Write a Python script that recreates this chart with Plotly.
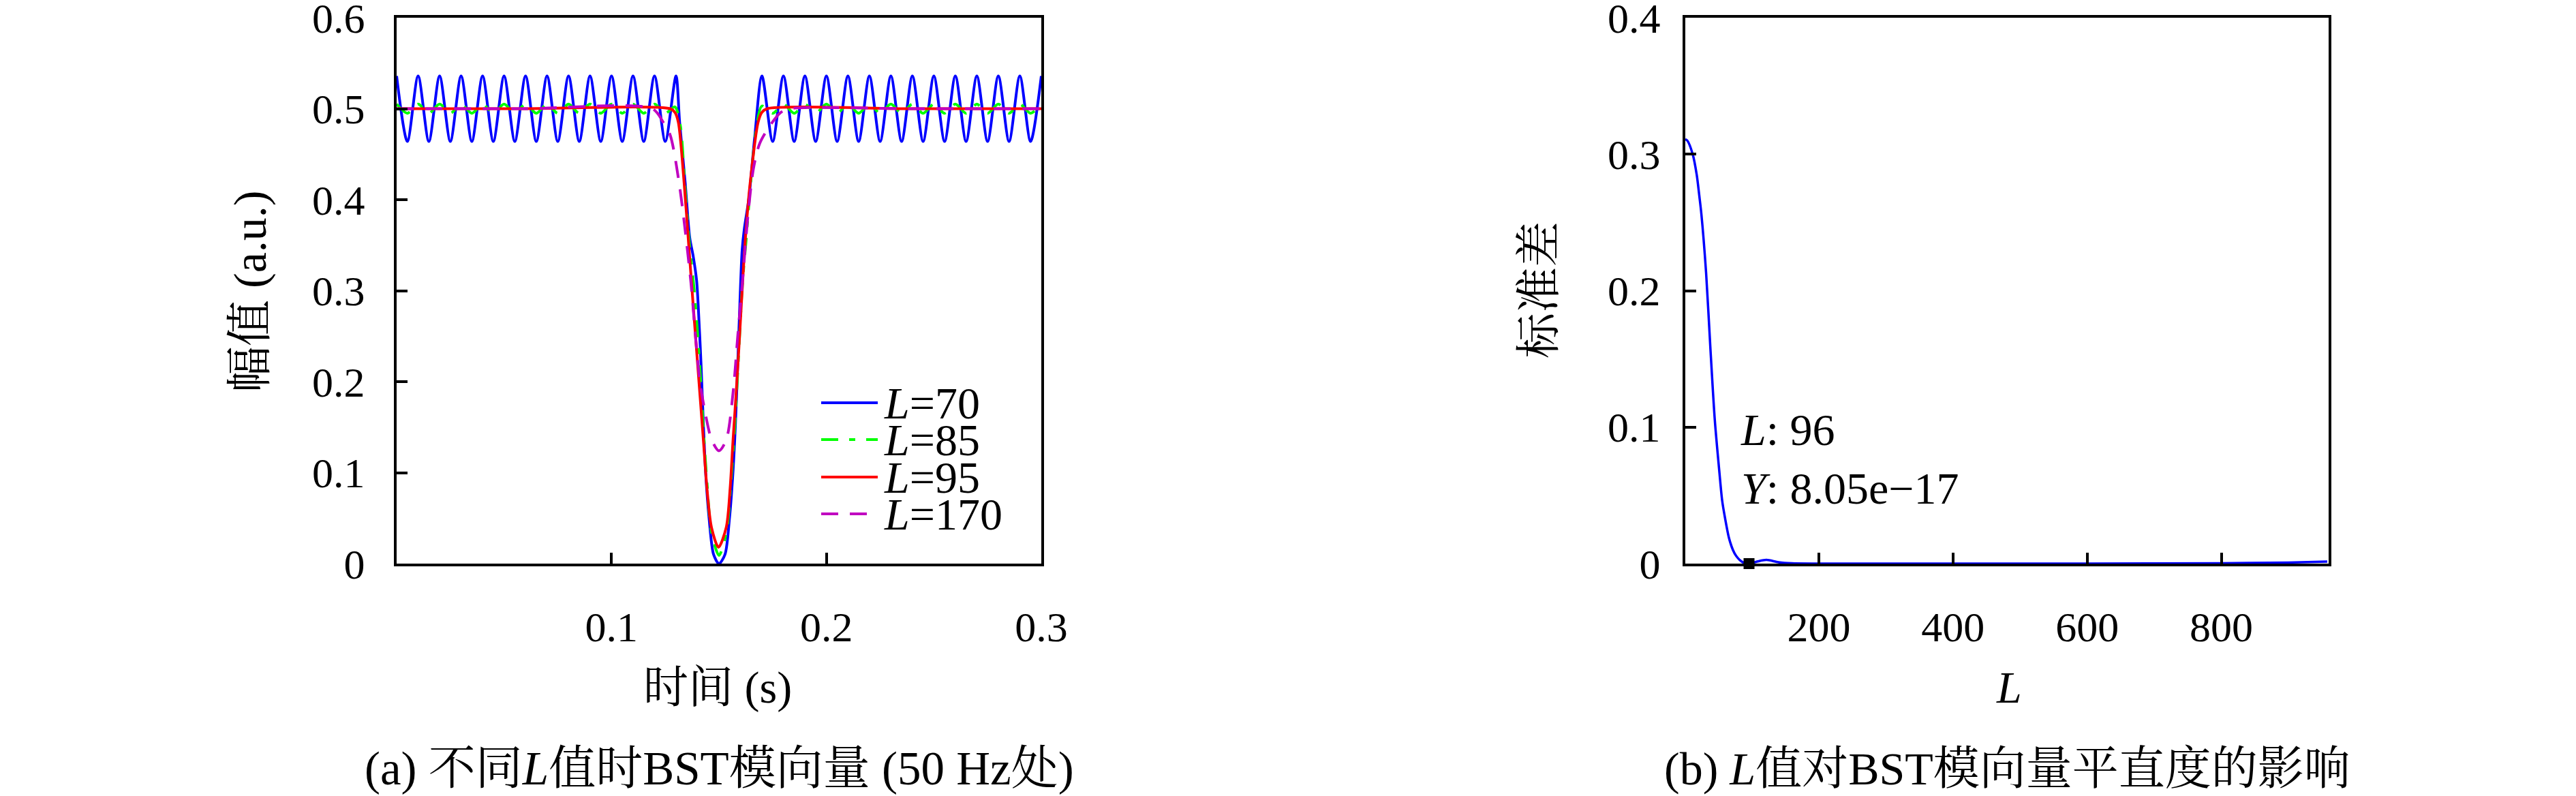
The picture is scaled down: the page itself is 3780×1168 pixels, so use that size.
import plotly.graph_objects as go

# ---------- (a) BST 模向量 (50 Hz) for different L ----------
T_L70 = [0.000, 0.005, 0.010, 0.015, 0.020, 0.025, 0.030, 0.035, 0.040, 0.045,
         0.050, 0.055, 0.060, 0.065, 0.070, 0.075, 0.080, 0.085, 0.090, 0.095,
         0.100, 0.105, 0.110, 0.115, 0.120, 0.125, 0.130,
         0.1317, 0.1343, 0.1364, 0.1380, 0.1396, 0.1407, 0.1417, 0.1428, 0.1438,
         0.1454, 0.1475, 0.1500, 0.1528, 0.1549, 0.1565, 0.1576, 0.1587, 0.1597,
         0.1608, 0.1618, 0.1639, 0.1666,
         0.170, 0.175, 0.180, 0.185, 0.190, 0.195, 0.200, 0.205, 0.210, 0.215,
         0.220, 0.225, 0.230, 0.235, 0.240, 0.245, 0.250, 0.255, 0.260, 0.265,
         0.270, 0.275, 0.280, 0.285, 0.290, 0.295, 0.300]
A_L70 = [0.536, 0.464, 0.536, 0.464, 0.536, 0.464, 0.536, 0.464, 0.536, 0.464,
         0.536, 0.464, 0.536, 0.464, 0.536, 0.464, 0.536, 0.464, 0.536, 0.464,
         0.536, 0.464, 0.536, 0.464, 0.536, 0.464, 0.536,
         0.485, 0.418, 0.358, 0.338, 0.311, 0.267, 0.217, 0.150, 0.100,
         0.050, 0.010, 0.000, 0.010, 0.050, 0.100, 0.150, 0.217, 0.284,
         0.345, 0.368, 0.401, 0.468,
         0.536, 0.464, 0.536, 0.464, 0.536, 0.464, 0.536, 0.464, 0.536, 0.464,
         0.536, 0.464, 0.536, 0.464, 0.536, 0.464, 0.536, 0.464, 0.536, 0.464,
         0.536, 0.464, 0.536, 0.464, 0.536, 0.464, 0.536]

T_L85 = [0.000, 0.005, 0.010, 0.015, 0.020, 0.025, 0.030, 0.035, 0.040, 0.045,
         0.050, 0.055, 0.060, 0.065, 0.070, 0.075, 0.080, 0.085, 0.090, 0.095,
         0.100, 0.105, 0.110, 0.115, 0.120, 0.125, 0.1295,
         0.1320, 0.1340, 0.1362, 0.1385, 0.1400, 0.1415, 0.1428, 0.1444, 0.1465,
         0.1500, 0.1535, 0.1556, 0.1572, 0.1585, 0.1597, 0.1610, 0.1628, 0.1648,
         0.1675, 0.1700,
         0.175, 0.180, 0.185, 0.190, 0.195, 0.200, 0.205, 0.210, 0.215,
         0.220, 0.225, 0.230, 0.235, 0.240, 0.245, 0.250, 0.255, 0.260, 0.265,
         0.270, 0.275, 0.280, 0.285, 0.290, 0.295, 0.300]
A_L85 = [0.505, 0.495, 0.505, 0.495, 0.505, 0.495, 0.505, 0.495, 0.505, 0.495,
         0.505, 0.495, 0.505, 0.495, 0.505, 0.495, 0.505, 0.495, 0.505, 0.495,
         0.505, 0.495, 0.505, 0.495, 0.505, 0.495, 0.502,
         0.482, 0.420, 0.353, 0.300, 0.255, 0.200, 0.145, 0.090, 0.035,
         0.009, 0.035, 0.090, 0.145, 0.200, 0.255, 0.310, 0.360, 0.420,
         0.480, 0.503,
         0.495, 0.505, 0.495, 0.505, 0.495, 0.505, 0.495, 0.505, 0.495,
         0.505, 0.495, 0.505, 0.495, 0.505, 0.495, 0.505, 0.495, 0.505, 0.495,
         0.505, 0.495, 0.505, 0.495, 0.505, 0.495, 0.505]

T_L95 = [0.000, 0.060, 0.1273, 0.1295, 0.1311, 0.1338, 0.1359, 0.1380, 0.1396,
         0.1412, 0.1428, 0.1444, 0.1465, 0.1498, 0.1534, 0.1552, 0.1565, 0.1579,
         0.1592, 0.1604, 0.1621, 0.1645, 0.1682, 0.1700, 0.1724, 0.240, 0.300]
A_L95 = [0.500, 0.500, 0.500, 0.496, 0.485, 0.418, 0.351, 0.284, 0.234,
         0.184, 0.134, 0.083, 0.040, 0.018, 0.040, 0.083, 0.134, 0.184,
         0.234, 0.284, 0.351, 0.418, 0.485, 0.496, 0.500, 0.500, 0.500]

T_L170 = [0.000, 0.060, 0.1190, 0.1241, 0.1273, 0.1316, 0.1369, 0.1391, 0.1412,
          0.1439, 0.1466, 0.1500, 0.1534, 0.1566, 0.1587, 0.1608, 0.1635, 0.1661,
          0.1690, 0.1745, 0.1788, 0.1830, 0.240, 0.300]
A_L170 = [0.500, 0.500, 0.500, 0.485, 0.471, 0.416, 0.310, 0.249, 0.199,
          0.162, 0.136, 0.124, 0.136, 0.189, 0.249, 0.306, 0.383, 0.435,
          0.462, 0.484, 0.496, 0.500, 0.500, 0.500]

SERIES_NAMES = ["L=70", "L=85", "L=95", "L=170"]
SERIES_COLORS = ["#0000ff", "#00ff00", "#ff0000", "#c000c0"]
SERIES_DASH = ["solid", "25px,16px,9px,16px", "solid", "25px,17px"]

# ---------- (b) 标准差 vs L ----------
L_VALS = [1, 4, 12, 18, 22, 25, 32, 38.5, 45, 52, 56, 60, 66, 72, 77, 86, 96,
          108, 122, 140, 160, 200, 400, 600, 800, 900, 958]
STD_VALS = [0.311, 0.310, 0.300, 0.285, 0.269, 0.256, 0.213, 0.157, 0.105, 0.066,
            0.046, 0.034, 0.019, 0.010, 0.0055, 0.0012, 0.0, 0.0015, 0.0027, 0.001,
            0.0002, 0.0, 0.0, 0.0, 0.0003, 0.0008, 0.0015]
MARK_L = [96]
MARK_STD = [8.05e-17]

FONT = "Liberation Serif, Noto Serif CJK SC, Noto Sans CJK SC, serif"
W, H = 3780, 1168

fig = go.Figure()
curves = [(T_L70, A_L70), (T_L85, A_L85), (T_L95, A_L95), (T_L170, A_L170)]
for (t, a), name, col, dash in zip(curves, SERIES_NAMES, SERIES_COLORS, SERIES_DASH):
    fig.add_trace(go.Scatter(x=t, y=a, mode="lines", name=name, showlegend=False,
                             line=dict(color=col, width=4, dash=dash, shape="spline", smoothing=0.8),
                             xaxis="x", yaxis="y"))

fig.add_trace(go.Scatter(x=L_VALS, y=STD_VALS, mode="lines", showlegend=False,
                         line=dict(color="#0000ff", width=3.5, shape="spline", smoothing=0.8),
                         xaxis="x2", yaxis="y2"))
fig.add_trace(go.Scatter(x=MARK_L, y=MARK_STD, mode="markers", showlegend=False, cliponaxis=False,
                         marker=dict(symbol="square", size=16, color="black"),
                         xaxis="x2", yaxis="y2"))

ax_common = dict(showline=True, mirror=True, linecolor="black", linewidth=4,
                 ticks="inside", ticklen=16, tickwidth=4, tickcolor="black",
                 showgrid=False, zeroline=False, ticklabeloverflow="allow", automargin=False,
                 tickfont=dict(family=FONT, size=62, color="black"))

def px_x(p): return p / W
def px_y(p): return 1 - p / H

fig.update_layout(
    width=W, height=H, paper_bgcolor="white", plot_bgcolor="white",
    margin=dict(l=0, r=0, t=0, b=0, autoexpand=False), showlegend=False,
    font=dict(family=FONT, color="black", size=62),
    xaxis=dict(**ax_common, domain=[px_x(582), px_x(1528)], range=[0, 0.3],
               tickvals=[0.1, 0.2, 0.3], ticktext=["0.1", "0.2", "0.3"],
               ticklabelstandoff=36, anchor="y"),
    yaxis=dict(**ax_common, domain=[px_y(827), px_y(26)], range=[0, 0.6],
               tickvals=[0, 0.1, 0.2, 0.3, 0.4, 0.5, 0.6],
               ticktext=["0", "0.1", "0.2", "0.3", "0.4", "0.5", "0.6"],
               ticklabelstandoff=30, anchor="x"),
    xaxis2=dict(**ax_common, domain=[px_x(2473), px_x(3417)], range=[1, 960],
                tickvals=[200, 400, 600, 800], ticktext=["200", "400", "600", "800"],
                ticklabelstandoff=36, anchor="y2"),
    yaxis2=dict(**ax_common, domain=[px_y(827), px_y(26)], range=[0, 0.4],
                tickvals=[0, 0.1, 0.2, 0.3, 0.4], ticktext=["0", "0.1", "0.2", "0.3", "0.4"],
                ticklabelstandoff=20, anchor="x2"),
)

ann = []
def text(x, y, s, size=62, xanchor="center", yanchor="middle", angle=0, align="center", height=None):
    ann.append(dict(x=px_x(x), y=px_y(y), xref="paper", yref="paper", text=s, showarrow=False,
                    xanchor=xanchor, yanchor=yanchor, textangle=angle, align=align,
                    height=height, valign="middle",
                    font=dict(family=FONT, size=size, color="black")))

# axis titles
text(1053, 1009, "时间 (s)", 66)
text(367, 428, "幅值 (a.u.)", 68, angle=-90)
text(2948, 1008, "<i>L</i>", 66)
text(2258, 426, "标准差", 67, angle=-90)
# captions
text(1055, 1128, "(a) 不同<i>L</i>值时BST模向量 (50 Hz处)", 69)
text(2945, 1128, "(b) <i>L</i>值对BST模向量平直度的影响", 68)
# data tip
text(2552, 673, "<i>L</i>: 96<br><i>Y</i>: 8.05e−17", 66, xanchor="left", align="left")

# legend (manual, tight row spacing like the original)
leg_y = [591, 645, 700, 754]
shapes = []
for yy, name, col, dash in zip(leg_y, SERIES_NAMES, SERIES_COLORS, SERIES_DASH):
    shapes.append(dict(type="line", xref="paper", yref="paper", x0=px_x(1205), x1=px_x(1288),
                       y0=px_y(yy), y1=px_y(yy), line=dict(color=col, width=4, dash=dash)))
    text(1295, yy, "<i>L</i>=" + name.split("=")[1], 66, xanchor="left", height=52)

fig.update_layout(annotations=ann, shapes=shapes)
# drop the browser's default 8px body margin so the figure sits at the page origin
fig.write_html("out.html", config={"displayModeBar": False},
               post_script="document.body.style.margin='0';")
